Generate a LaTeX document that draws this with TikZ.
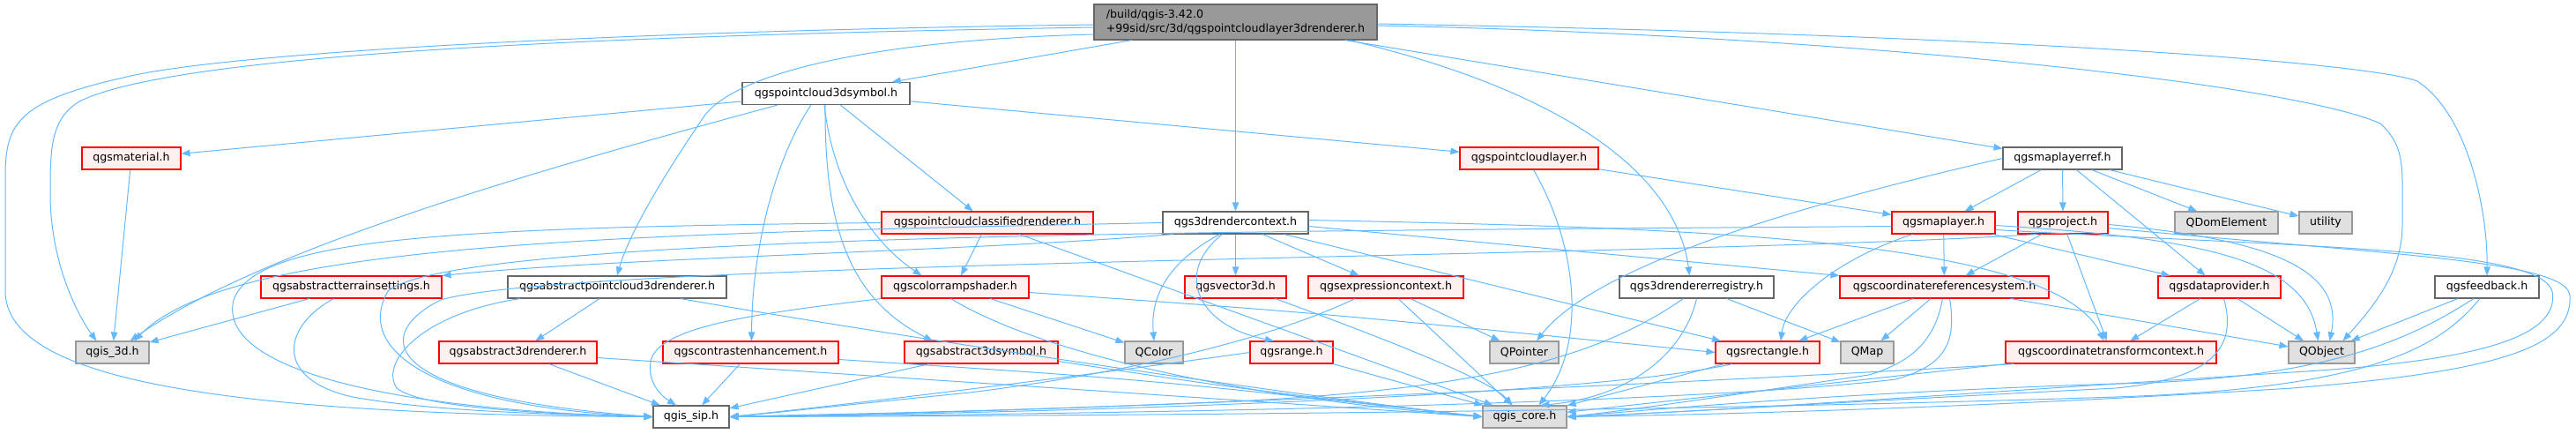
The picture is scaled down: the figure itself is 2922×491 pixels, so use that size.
\documentclass[tikz,border=0pt]{standalone}
\usepackage{fontspec}
\setmainfont{DejaVu Sans}
\usetikzlibrary{arrows.meta}
\definecolor{edgeblue}{HTML}{63B8FF}
\definecolor{truncfill}{HTML}{FFF0F0}
\definecolor{extfill}{HTML}{E0E0E0}
\definecolor{extline}{HTML}{999999}
\definecolor{hdrline}{HTML}{666666}
\begin{document}
\begin{tikzpicture}
  [x=1pt,y=-1pt,every node/.style={draw=hdrline,fill=white,line width=1.1pt,inner sep=0pt,minimum height=25pt,font=\fontsize{12.6}{15.5}\selectfont}]
  \tikzstyle{trunc} = [draw=red,fill=truncfill]
  \tikzstyle{ext} = [draw=extline,fill=extfill]
  \tikzstyle{dep} = [draw=edgeblue,line width=1pt,-{Triangle[length=10pt,width=7.5pt]}]
  \useasboundingbox (0,0) rectangle (2922,491);
  \node[fill=extline,minimum width=321pt,minimum height=40pt,align=left] (r) at (1401.5,25) {/build/qgis-3.42.0\\+99sid/src/3d/qgspointcloudlayer3drenderer.h};
  \node[minimum width=190pt] (sym) at (937,106) {qgspointcloud3dsymbol.h};
  \node[trunc,minimum width=112pt] (mat) at (149,179.5) {qgsmaterial.h};
  \node[trunc,minimum width=157pt] (pcl) at (1734.5,179.5) {qgspointcloudlayer.h};
  \node[minimum width=135pt] (mlr) at (2339.5,179.5) {qgsmaplayerref.h};
  \node[trunc,minimum width=240pt] (pccr) at (1120,252.5) {qgspointcloudclassifiedrenderer.h};
  \node[minimum width=165pt] (rctx) at (1401.5,252.5) {qgs3drendercontext.h};
  \node[trunc,minimum width=117pt] (ml) at (2204.5,252.5) {qgsmaplayer.h};
  \node[trunc,minimum width=102pt] (proj) at (2340,252.5) {qgsproject.h};
  \node[ext,minimum width=117pt] (qdom) at (2525.5,252.5) {QDomElement};
  \node[ext,minimum width=60pt] (util) at (2638,252.5) {utility};
  \node[trunc,minimum width=205pt] (terr) at (398.5,325.5) {qgsabstractterrainsettings.h};
  \node[minimum width=248pt] (apc) at (700,325.5) {qgsabstractpointcloud3drenderer.h};
  \node[trunc,minimum width=167pt] (cramp) at (1083.5,325.5) {qgscolorrampshader.h};
  \node[trunc,minimum width=115pt] (vec) at (1401.5,325.5) {qgsvector3d.h};
  \node[trunc,minimum width=176pt] (expr) at (1572,325.5) {qgsexpressioncontext.h};
  \node[minimum width=175pt] (reg) at (1924.5,325.5) {qgs3drendererregistry.h};
  \node[trunc,minimum width=237pt] (crsys) at (2205.5,325.5) {qgscoordinatereferencesystem.h};
  \node[trunc,minimum width=139pt] (dp) at (2517.5,325.5) {qgsdataprovider.h};
  \node[minimum width=118pt] (fb) at (2821,325.5) {qgsfeedback.h};
  \node[ext,minimum width=83pt] (q3d) at (127.5,399.5) {qgis\_3d.h};
  \node[trunc,minimum width=179pt] (a3r) at (587.5,399.5) {qgsabstract3drenderer.h};
  \node[trunc,minimum width=199pt] (ce) at (851.5,399.5) {qgscontrastenhancement.h};
  \node[trunc,minimum width=174pt] (a3s) at (1113,399.5) {qgsabstract3dsymbol.h};
  \node[ext,minimum width=66pt] (qcolor) at (1309,399.5) {QColor};
  \node[trunc,minimum width=94pt] (range) at (1465,399.5) {qgsrange.h};
  \node[ext,minimum width=78pt] (qptr) at (1729,399.5) {QPointer};
  \node[trunc,minimum width=118pt] (rect) at (2005,399.5) {qgsrectangle.h};
  \node[ext,minimum width=60pt] (qmap) at (2118,399.5) {QMap};
  \node[trunc,minimum width=239pt] (ctc) at (2394.5,399.5) {qgscoordinatetransformcontext.h};
  \node[ext,minimum width=75pt] (qobj) at (2633.5,399.5) {QObject};
  \node[minimum width=86pt] (sip) at (784,472.5) {qgis\_sip.h};
  \node[ext,minimum width=95pt] (core) at (1729.5,472.5) {qgis\_core.h};
  \foreach \source/\dest in {r/sym,r/rctx,r/mlr,sym/mat,sym/pccr,sym/pcl,pcl/ml,mlr/ml,mlr/proj,mlr/qdom,mlr/util,mlr/dp,mat/q3d,terr/q3d,pccr/cramp,pccr/core,rctx/vec,rctx/expr,apc/a3r,cramp/qcolor,expr/qptr,expr/core,range/core,ml/crsys,ml/dp,proj/crsys,proj/ctc,crsys/rect,crsys/qmap,crsys/qobj,reg/qmap,dp/ctc,dp/qobj,fb/qobj,a3r/sip,ce/sip,a3s/sip,rect/core,ctc/core}
   \draw[dep] (\source) -- (\dest);
  % root header
  \draw[dep] ([yshift=-6pt]r.west) .. controls (700,40) and (200,60) .. (90,115) .. controls (57,135) and (57,170) .. (57,220) .. controls (57,300) and (90,360) .. ([xshift=-18pt]q3d.north);
  \draw[dep] ([yshift=-3pt]r.west) .. controls (700,35) and (250,60) .. (140,88) .. controls (20,115) and (6,140) .. (6,200) -- (6,330) .. controls (6,430) and (250,470) .. (sip.west);
  \draw[dep] ([yshift=-14pt]r.west) .. controls (1000,45) and (840,80) .. (800,130) .. controls (745,210) and (712,270) .. (apc.north);
  \draw[dep] ([xshift=-32pt]r.south east) .. controls (1760,100) and (1900,190) .. ([xshift=-8pt]reg.north);
  \draw[dep] ([yshift=-4pt]r.east) .. controls (2100,40) and (2600,95) .. (2700,140) .. controls (2722,160) and (2725,180) .. (2725,210) -- (2725,255) .. controls (2725,310) and (2690,350) .. ([xshift=24pt]qobj.north);
  \draw[dep] ([yshift=-2pt]r.east) .. controls (2300,40) and (2690,72) .. (2742,92) .. controls (2800,130) and (2822,240) .. (fb.north);
  % 3d symbol
  \draw[dep] ([xshift=-55pt]sym.south) .. controls (620,190) and (300,280) .. ([xshift=20pt]q3d.north);
  \draw[dep] ([xshift=-2pt]sym.south) .. controls (945,210) and (990,275) .. ([xshift=-38pt]cramp.north);
  \draw[dep] ([xshift=-1pt]sym.south) .. controls (935,260) and (965,340) .. ([xshift=-55pt]a3s.north);
  \draw[dep] ([xshift=-17pt]sym.south) .. controls (885,170) and (853,270) .. ([xshift=1pt]ce.north);
  \draw[dep] ([xshift=5pt]pcl.south) .. controls (1790,280) and (1800,390) .. ([xshift=16pt]core.north);
  \draw[dep] (mlr.west) .. controls (2050,230) and (1810,300) .. ([xshift=14pt]qptr.north);
  \draw[dep] (pccr.west) .. controls (500,258) and (290,270) .. (265,340) .. controls (245,420) and (450,465) .. (sip.west);
  % render context
  \draw[dep] (rctx.west) .. controls (700,265) and (260,275) .. ([xshift=25pt]q3d.north);
  \draw[dep] ([xshift=12pt]rctx.south west) .. controls (1100,285) and (700,292) .. (terr.north east);
  \draw[dep] ([xshift=-18pt]rctx.south) .. controls (1320,300) and (1305,340) .. (qcolor.north);
  \draw[dep] ([xshift=-15pt]rctx.south) .. controls (1330,310) and (1360,370) .. ([xshift=-20pt]range.north);
  \draw[dep] ([xshift=55pt]rctx.south) -- ([xshift=-53pt]rect.north);
  \draw[dep] ([yshift=-4pt]rctx.east) -- (crsys.north west);
  \draw[dep] ([yshift=3pt]rctx.east) .. controls (1900,258) and (2330,268) .. ([xshift=-8pt]ctc.north);
  % map layer and project
  \draw[dep] ([xshift=-35pt]ml.south) .. controls (2080,295) and (2025,345) .. ([xshift=15pt]rect.north);
  \draw[dep] ([yshift=-3pt]ml.east) .. controls (2500,270) and (2615,295) .. ([xshift=-4pt]qobj.north);
  \draw[dep] ([yshift=-2pt]proj.east) .. controls (2560,270) and (2660,300) .. ([xshift=9pt]qobj.north);
  \draw[dep] ([yshift=-4pt]ml.west) .. controls (1500,262) and (520,262) .. (440,330) .. controls (400,400) and (500,462) .. (sip.west);
  \draw[dep] ([xshift=-30pt]proj.south) .. controls (1900,292) and (650,295) .. (500,340) .. controls (420,380) and (430,450) .. (sip.west);
  \draw[dep] ([yshift=-8pt]ml.east) .. controls (2600,280) and (2880,280) .. (2895,330) .. controls (2905,385) and (2800,410) .. (2600,422) .. controls (2200,448) and (1950,466) .. (core.east);
  \draw[dep] ([yshift=-6pt]proj.east) .. controls (2700,288) and (2912,295) .. (2915,335) .. controls (2918,390) and (2850,420) .. (2600,440) .. controls (2250,462) and (1950,470) .. (core.east);
  % lower rows
  \draw[dep] ([xshift=-2pt]crsys.south) .. controls (2195,385) and (2170,410) .. (2120,425) .. controls (1950,450) and (1850,465) .. (core.east);
  \draw[dep] ([xshift=6pt]crsys.south) .. controls (2220,390) and (2205,415) .. (2150,430) .. controls (1900,460) and (1200,470) .. (sip.east);
  \draw[dep] ([xshift=5pt]dp.south) .. controls (2540,400) and (2500,430) .. (2400,440) .. controls (2100,455) and (1900,468) .. (core.east);
  \draw[dep] ([xshift=-15pt]fb.south) .. controls (2740,380) and (2650,430) .. (2400,435) .. controls (2100,445) and (1900,462) .. (core.east);
  \draw[dep] ([xshift=-8pt]fb.south) .. controls (2770,390) and (2700,440) .. (2400,450) .. controls (1800,470) and (1000,472) .. (sip.east);
  \draw[dep] ([xshift=-15pt]reg.south) .. controls (1820,400) and (1700,440) .. (1400,455) .. controls (1100,468) and (900,470) .. (sip.east);
  \draw[dep] (reg.south) .. controls (1910,400) and (1850,450) .. ([xshift=18pt]core.north);
  \draw[dep] ([xshift=-40pt]rect.south) .. controls (1800,450) and (1200,468) .. (sip.east);
  \draw[dep] ([xshift=-110pt]ctc.south) .. controls (2000,430) and (1200,468) .. (sip.east);
  \draw[dep] (range.west) .. controls (1200,430) and (950,460) .. (sip.east);
  \draw[dep] ([xshift=-35pt]expr.south) .. controls (1450,380) and (1300,420) .. (1100,445) .. controls (950,460) and (880,468) .. (sip.east);
  \draw[dep] (cramp.south west) .. controls (860,355) and (745,370) .. (738,410) .. controls (734,435) and (752,450) .. ([xshift=-17pt]sip.north);
  \draw[dep] ([xshift=-5pt]cramp.south) .. controls (1180,400) and (1400,450) .. (core.west);
  \draw[dep] ([yshift=-6pt]cramp.east) .. controls (1500,355) .. (rect.west);
  \draw[dep] ([xshift=45pt]vec.south) .. controls (1560,380) and (1690,430) .. ([xshift=-14pt]core.north);
  \draw[dep] ([yshift=-10pt]a3s.east) .. controls (1400,440) .. (core.west);
  \draw[dep] ([yshift=-8pt]ce.east) .. controls (1300,430) .. (core.west);
  \draw[dep] ([yshift=-6pt]a3r.east) .. controls (1200,440) .. (core.west);
  \draw[dep] ([xshift=-110pt]apc.south) .. controls (480,355) and (430,410) .. (450,440) .. controls (480,465) and (650,470) .. (sip.west);
  \draw[dep] ([xshift=72pt]apc.south) .. controls (950,370) and (1400,440) .. (core.west);
  \draw[dep] ([xshift=-20pt]terr.south) .. controls (320,370) and (310,430) .. (400,450) .. controls (500,468) and (650,470) .. (sip.west);
\end{tikzpicture}
\end{document}
